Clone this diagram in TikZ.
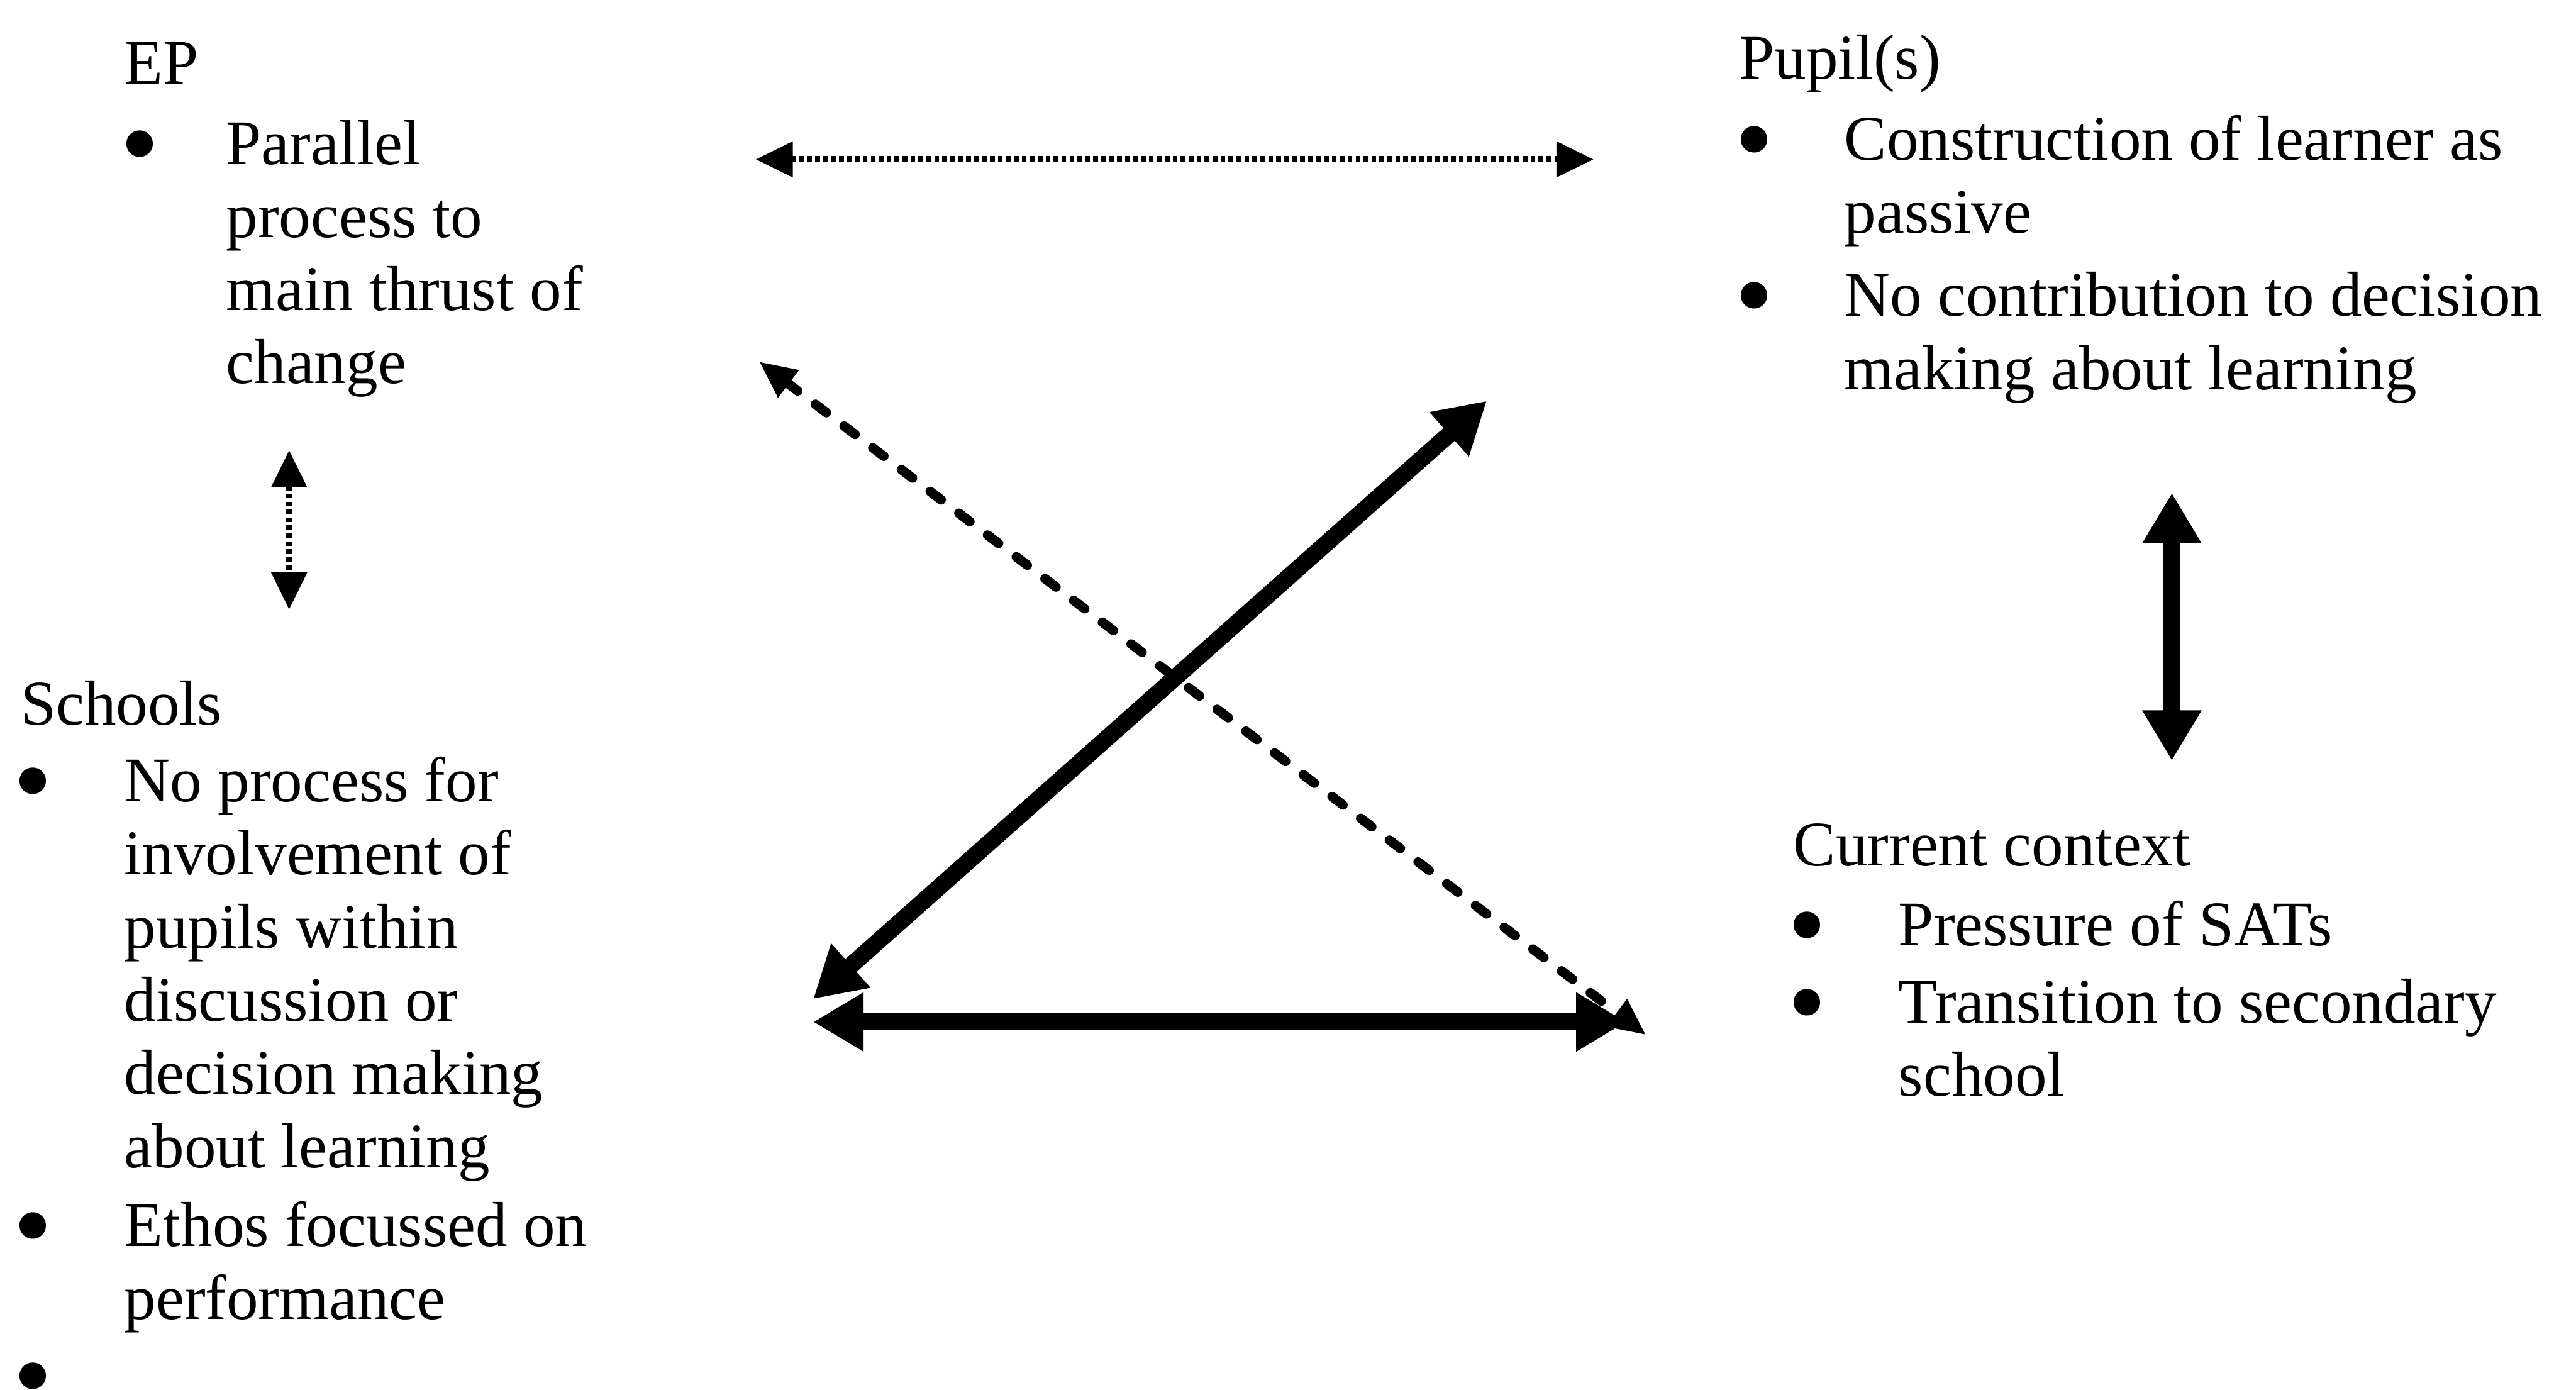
\documentclass[tikz,border=0pt]{standalone}
\usepackage{fontspec}
\setmainfont{Liberation Serif}
\usetikzlibrary{arrows.meta}
\tikzset{
  every node/.style={
    inner sep=0pt,
    anchor=base west,
    align=left,
    font=\fontsize{12}{13.8}\selectfont
  },
  blt/.style={anchor=base},
  dotarr/.style={
    line width=1.2pt,
    dash pattern=on 0.9pt off 0.6pt,
    {Triangle[length=7pt,width=6.5pt]}-{Triangle[length=7pt,width=6.5pt]}
  },
  dasharr/.style={
    line width=1.8pt,
    line cap=round,
    dash pattern=on 2.6pt off 4.2pt,
    {Triangle[length=7pt,width=6pt]}-{Triangle[length=7pt,width=6pt]}
  },
  boldarr/.style={
    line width=3.2pt,
    {Triangle[length=9.5pt,width=10.5pt]}-{Triangle[length=9.5pt,width=10.5pt]}
  }
}
\newcommand{\bigdot}{\smash{\raisebox{-3.1pt}{\fontsize{21}{21}\selectfont\textbullet}}}

\begin{document}
\begin{tikzpicture}[x=0.31pt, y=-0.31pt]
  \useasboundingbox (0,0) rectangle (1568,846);

  % EP (multi-line nodes sit on the baseline of their last line)
  \node (ep) at (75,51) {EP};
  \node[blt] (epb1) at (85,100) {\bigdot};
  \node (ep1) at (137,233.5) {Parallel\\process to\\main thrust of\\change};

  % pupils
  \node (pup) at (1058,48) {Pupil(s)};
  \node[blt] (pupb1) at (1068,97.5) {\bigdot};
  \node (pup1) at (1122,142) {Construction of learner as\\passive};
  \node[blt] (pupb2) at (1068,192.5) {\bigdot};
  \node (pup2) at (1122,237) {No contribution to decision\\making about learning};

  % schools
  \node (sch) at (12,441) {Schools};
  \node[blt] (schb1) at (20,488) {\bigdot};
  \node (sch1) at (75,710.5) {No process for\\involvement of\\pupils within\\discussion or\\decision making\\about learning};
  \node[blt] (schb2) at (20,758.5) {\bigdot};
  \node (sch2) at (75,803) {Ethos focussed on\\performance};
  \node[blt] (schb3) at (20,850) {\bigdot};

  % current context
  \node (ctx) at (1091,527) {Current context};
  \node[blt] (ctxb1) at (1100,575.5) {\bigdot};
  \node (ctx1) at (1155,575.5) {Pressure of SATs};
  \node[blt] (ctxb2) at (1100,622.5) {\bigdot};
  \node (ctx2) at (1155,667) {Transition to secondary\\school};

  % arrow ends
  \coordinate (epR) at (460,97);
  \coordinate (pupL) at (970,97);
  \coordinate (epD) at (176,274);
  \coordinate (schU) at (176,371);
  \coordinate (epX) at (462,220);
  \coordinate (ctxX) at (1002,630);
  \coordinate (pupX) at (905,244);
  \coordinate (schX) at (495,608);
  \coordinate (schR) at (495,622);
  \coordinate (ctxL) at (990,622);
  \coordinate (pupD) at (1322,300);
  \coordinate (ctxU) at (1322,463);

  \path (epR) edge[dotarr] (pupL)
        (epD) edge[dotarr] (schU)
        (epX) edge[dasharr] (ctxX)
        (pupX) edge[boldarr] (schX)
        (schR) edge[boldarr] (ctxL)
        (pupD) edge[boldarr] (ctxU);
\end{tikzpicture}
\end{document}
